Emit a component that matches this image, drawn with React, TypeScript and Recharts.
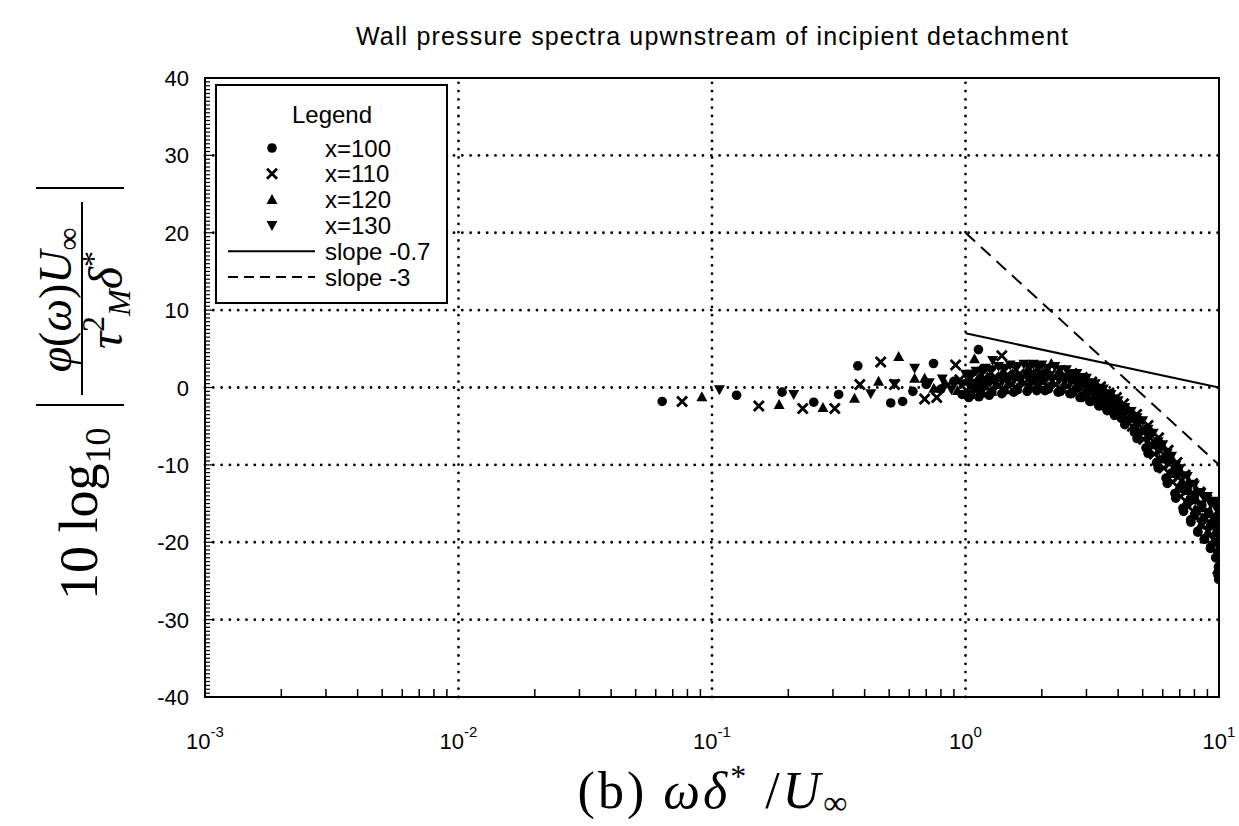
import React from 'react'
import { ScatterChart, Scatter, XAxis, YAxis, ReferenceLine, ReferenceArea } from 'recharts'

type Pt = [number, number]

// x = 100 (filled circles)
const x100: Pt[] = [
  [0.0636, -1.8], [0.125, -1.0], [0.189, -0.6], [0.252, -1.9], [0.316, -0.9], [0.376, 2.8],
  [0.507, -2.0], [0.565, -1.8], [0.62, -0.5], [0.7, 0.4], [0.748, 3.1], [0.8, -0.2], [0.9, 0.8],
  [0.97, -0.9], [1.125, 4.9], [1.17, 2.4],
  [1.07, 0.4], [1.18, 0.7], [1.28, 1.0], [1.44, 1.2], [1.61, 1.4], [1.82, 1.5], [1.98, 1.6], [2.14, 1.5],
  [2.41, 1.3], [2.68, 1.0], [2.94, 0.5], [3.21, -0.1], [3.48, -0.7], [3.74, -1.4], [4.01, -2.0], [4.28, -2.7],
  [4.82, -4.2], [5.35, -5.8], [5.89, -7.5], [6.42, -9.3], [6.96, -11.0], [7.49, -12.7], [8.03, -13.9],
  [8.56, -15.2], [9.1, -16.2], [9.63, -16.9], [9.99, -17.8], [10.0, -18.4],
  [1.03, -1.3], [1.13, -1.2], [1.24, -1.0], [1.39, -0.8], [1.55, -0.6], [1.75, -0.5], [1.91, -0.4], [2.06, -0.4],
  [2.32, -0.6], [2.58, -0.8], [2.83, -1.3], [3.09, -1.8], [3.35, -2.3], [3.61, -2.8], [3.86, -3.4], [4.12, -4.0],
  [4.64, -5.8], [5.15, -7.8], [5.67, -9.7], [6.18, -11.7], [6.7, -13.7], [7.21, -15.6], [7.73, -17.1],
  [8.24, -18.6], [8.76, -19.6], [9.27, -20.6], [9.79, -22.0], [9.95, -23.2],
  [1.05, -1.0], [1.15, -0.8], [1.27, -0.6], [1.42, -0.4], [1.6, -0.3], [1.77, -0.2], [1.92, -0.1], [2.12, -0.2],
  [2.37, -0.5], [2.62, -0.8], [2.87, -1.3], [3.12, -1.8], [3.37, -2.4], [3.62, -3.0], [3.87, -3.6], [4.25, -4.8],
  [4.75, -6.6], [5.25, -8.5], [5.75, -10.4], [6.25, -12.4], [6.75, -14.3], [7.25, -16.0], [7.75, -17.4],
  [8.25, -18.7], [8.75, -19.6], [9.25, -20.8], [9.7, -22.0], [9.9, -24.2], [9.97, -24.8],
]

// x = 110 (crosses)
const x110: Pt[] = [
  [0.0762, -1.8], [0.153, -2.4], [0.228, -2.7], [0.305, -2.7], [0.383, 0.4], [0.463, 3.3],
  [0.525, 0.4], [0.69, -1.5], [0.77, -1.3], [0.85, 0.3], [0.914, 2.9], [0.95, 1.0], [1.39, 4.1],
  [1.05, 1.2], [1.16, 1.6], [1.26, 1.9], [1.42, 2.1], [1.58, 2.3], [1.79, 2.4], [1.94, 2.4], [2.1, 2.4],
  [2.36, 2.2], [2.63, 1.8], [2.89, 1.3], [3.15, 0.7], [3.41, 0.1], [3.68, -0.7], [3.94, -1.3], [4.2, -2.1],
  [4.73, -3.5], [5.25, -4.9], [5.78, -6.5], [6.3, -8.1], [6.83, -9.7], [7.35, -11.3], [7.88, -12.4],
  [8.4, -13.5], [8.93, -14.5], [9.45, -15.2], [9.93, -15.9], [9.98, -16.2],
  [1.01, -0.4], [1.11, -0.2], [1.21, 0.1], [1.36, 0.3], [1.52, 0.5], [1.72, 0.6], [1.87, 0.7], [2.02, 0.6],
  [2.27, 0.4], [2.53, 0.2], [2.78, -0.4], [3.03, -0.9], [3.28, -1.4], [3.54, -2.0], [3.79, -2.7], [4.04, -3.3],
  [4.55, -5.0], [5.05, -6.7], [5.56, -8.6], [6.06, -10.4], [6.57, -12.2], [7.07, -14.1], [7.58, -15.4],
  [8.08, -16.8], [8.59, -17.8], [9.09, -18.6], [9.6, -19.8], [9.92, -20.7],
  [1.07, 0.7], [1.17, 1.0], [1.3, 1.3], [1.45, 1.5], [1.63, 1.7], [1.8, 1.7], [1.96, 1.7], [2.16, 1.6],
  [2.41, 1.3], [2.67, 0.9], [2.92, 0.4], [3.18, -0.2], [3.43, -0.9], [3.69, -1.5], [3.95, -2.2], [4.33, -3.3],
  [4.84, -4.8], [5.35, -6.5], [5.86, -8.2], [6.37, -9.9], [6.88, -11.6], [7.39, -13.0], [7.9, -14.2],
  [8.41, -15.3], [8.92, -16.2], [9.43, -17.0], [9.88, -17.6],
]

// x = 120 (up triangles)
const x120: Pt[] = [
  [0.0912, -1.2], [0.184, -2.2], [0.274, -2.6], [0.365, -1.4], [0.454, 0.8], [0.545, 4.0],
  [0.63, 1.2], [0.69, 1.2], [0.75, -0.1], [0.83, 0.6], [0.93, -0.4], [1.085, 3.7], [2.18, 3.1],
  [1.02, 0.8], [1.12, 1.1], [1.22, 1.4], [1.38, 1.6], [1.53, 1.8], [1.73, 1.9], [1.89, 1.9], [2.04, 1.9],
  [2.3, 1.7], [2.55, 1.3], [2.81, 0.8], [3.06, 0.3], [3.32, -0.4], [3.57, -1.1], [3.83, -1.7], [4.08, -2.5],
  [4.59, -3.9], [5.1, -5.4], [5.61, -7.1], [6.12, -8.8], [6.63, -10.4], [7.14, -12.1], [7.65, -13.3],
  [8.16, -14.5], [8.67, -15.5], [9.18, -16.1], [9.69, -17.0], [9.94, -17.4],
  [1.06, -0.9], [1.17, -0.7], [1.27, -0.5], [1.43, -0.3], [1.59, -0.1], [1.8, 0.0], [1.96, 0.1], [2.12, 0.1],
  [2.39, -0.1], [2.65, -0.4], [2.92, -0.9], [3.18, -1.4], [3.45, -1.9], [3.71, -2.5], [3.98, -3.1], [4.24, -3.7],
  [4.77, -5.4], [5.3, -7.3], [5.83, -9.2], [6.36, -11.1], [6.89, -13.0], [7.42, -14.9], [7.95, -16.3],
  [8.48, -17.7], [9.01, -18.7], [9.54, -19.7], [9.96, -21.0], [9.99, -22.0],
  [1.09, -0.1], [1.19, 0.2], [1.32, 0.4], [1.48, 0.6], [1.66, 0.8], [1.84, 0.9], [2.0, 0.9], [2.2, 0.7],
  [2.46, 0.5], [2.72, 0.1], [2.98, -0.4], [3.24, -1.0], [3.5, -1.6], [3.76, -2.2], [4.02, -2.8], [4.42, -4.0],
  [4.94, -5.6], [5.46, -7.4], [5.98, -9.2], [6.5, -11.0], [7.02, -12.8], [7.54, -14.4], [8.06, -15.7],
  [8.58, -16.8], [9.1, -17.8], [9.62, -18.7], [9.85, -23.5],
]

// x = 130 (down triangles)
const x130: Pt[] = [
  [0.107, -0.3], [0.21, -0.9], [0.423, -0.8], [0.525, 0.5], [0.63, 2.5], [0.72, 0.6], [0.81, 1.1],
  [0.88, -0.3], [0.96, 0.5], [1.28, 3.5],
  [1.0, 1.7], [1.1, 2.1], [1.2, 2.5], [1.35, 2.7], [1.5, 2.9], [1.7, 3.0], [1.85, 3.0], [2.0, 2.9],
  [2.25, 2.7], [2.5, 2.3], [2.75, 1.8], [3.0, 1.2], [3.25, 0.5], [3.5, -0.2], [3.75, -0.9], [4.0, -1.7],
  [4.5, -3.1], [5.0, -4.3], [5.5, -5.9], [6.0, -7.4], [6.5, -8.9], [7.0, -10.5], [7.5, -11.5],
  [8.0, -12.6], [8.5, -13.6], [9.0, -14.1], [9.5, -14.7], [9.9, -14.8],
  [1.04, 0.1], [1.14, 0.3], [1.25, 0.6], [1.4, 0.8], [1.56, 1.0], [1.77, 1.1], [1.92, 1.2], [2.08, 1.1],
  [2.34, 0.9], [2.6, 0.6], [2.86, 0.1], [3.12, -0.4], [3.38, -1.0], [3.64, -1.7], [3.9, -2.3], [4.16, -3.0],
  [4.68, -4.6], [5.2, -6.2], [5.72, -8.0], [6.24, -9.8], [6.76, -11.5], [7.28, -13.3], [7.8, -14.6],
  [8.32, -15.9], [8.84, -16.9], [9.36, -17.6], [9.88, -18.7], [9.97, -19.4],
  [1.05, 1.7], [1.15, 2.0], [1.27, 2.3], [1.42, 2.5], [1.6, 2.7], [1.77, 2.7], [1.92, 2.7], [2.12, 2.5],
  [2.37, 2.3], [2.62, 1.8], [2.87, 1.3], [3.12, 0.6], [3.37, -0.1], [3.62, -0.8], [3.87, -1.5], [4.25, -2.6],
  [4.75, -3.9], [5.25, -5.4], [5.75, -7.0], [6.25, -8.5], [6.75, -10.1], [7.25, -11.4], [7.75, -12.5],
  [8.25, -13.6], [8.75, -14.3], [9.25, -15.0], [9.7, -15.4],
]

const slope07: Pt[] = [[1, 7], [10, 0]]
const slope3: Pt[] = [[1, 20], [10, -10]]

const decades = [0.001, 0.01, 0.1, 1, 10]
const decadeExp = ['-3', '-2', '-1', '0', '1']
const yMajor = [-40, -30, -20, -10, 0, 10, 20, 30, 40]
const gridX = [0.01, 0.1, 1]
const gridY = [-30, -20, -10, 0, 10, 20, 30]

const xTicks = decades.flatMap((d, i) => (i < decades.length - 1 ? [d, 2 * d, 3 * d, 4 * d, 5 * d, 6 * d, 7 * d, 8 * d, 9 * d] : [d]))
const yTicks = Array.from({ length: 161 }, (_, i) => -40 + i * 0.5)

const sans = '"Liberation Sans", Arial, Helvetica, sans-serif'
const serif = '"Liberation Serif", "DejaVu Serif", "Times New Roman", serif'

const toXY = (a: Pt[]) => a.map(([x, y]) => ({ x, y }))

function XTick(props: any) {
  const { x, y, payload } = props
  const i = decades.indexOf(payload.value)
  if (i < 0) return <line x1={x} x2={x} y1={y} y2={y - 8} stroke="#000" strokeWidth={1.5} />
  return (
    <text x={x} y={y + 52} textAnchor="middle" fontSize={22} fontFamily={sans} fill="#000">
      10<tspan dy={-12} fontSize={15}>{decadeExp[i]}</tspan>
    </text>
  )
}

function YTick(props: any) {
  const { x, y, payload } = props
  const v = payload.value
  const major = yMajor.includes(v)
  return (
    <g>
      <line x1={x} x2={x + (major ? 7 : 5)} y1={y} y2={y} stroke="#000" strokeWidth={1.2} />
      {major && (
        <text x={x - 16} y={y + 8} textAnchor="end" fontSize={22} fontFamily={sans} fill="#000">
          {v}
        </text>
      )}
    </g>
  )
}

const Dot = (p: any) => <circle cx={p.cx} cy={p.cy} r={4.8} fill="#000" />
const Cross = (p: any) => {
  const { cx, cy } = p
  return <path d={`M${cx - 5},${cy - 5}L${cx + 5},${cy + 5}M${cx - 5},${cy + 5}L${cx + 5},${cy - 5}`} stroke="#000" strokeWidth={2.8} />
}
const TriUp = (p: any) => {
  const { cx, cy } = p
  return <path d={`M${cx},${cy - 5.5}L${cx + 5.5},${cy + 4.5}L${cx - 5.5},${cy + 4.5}Z`} fill="#000" />
}
const TriDown = (p: any) => {
  const { cx, cy } = p
  return <path d={`M${cx},${cy + 5.5}L${cx + 5.5},${cy - 4.5}L${cx - 5.5},${cy - 4.5}Z`} fill="#000" />
}
const NoMark = () => <g />

const dotted = { stroke: '#000', strokeWidth: 2.8, strokeDasharray: '0 8.3', strokeLinecap: 'round' as const }

const legendRows = [
  { label: 'x=100', mark: 'dot' },
  { label: 'x=110', mark: 'cross' },
  { label: 'x=120', mark: 'up' },
  { label: 'x=130', mark: 'down' },
  { label: 'slope -0.7', mark: 'solid' },
  { label: 'slope -3', mark: 'dash' },
]

function LegendMark({ mark, y }: { mark: string; y: number }) {
  const cx = 272
  if (mark === 'dot') return <Dot cx={cx} cy={y} />
  if (mark === 'cross') return <Cross cx={cx} cy={y} />
  if (mark === 'up') return <TriUp cx={cx} cy={y} />
  if (mark === 'down') return <TriDown cx={cx} cy={y} />
  return <line x1={228} x2={315} y1={y} y2={y} stroke="#000" strokeWidth={2} strokeDasharray={mark === 'dash' ? '10 6' : undefined} />
}

export default function App() {
  return (
    <div style={{ position: 'absolute', left: 0, top: 0, width: 1239, height: 826, background: '#fff' }}>
      <ScatterChart width={1239} height={826} margin={{ top: 78, right: 20, bottom: 69, left: 105 }}>
        <XAxis
          dataKey="x"
          type="number"
          scale="log"
          domain={[0.001, 10]}
          ticks={xTicks}
          interval={0}
          tick={XTick}
          tickLine={false}
          axisLine={false}
          tickSize={0}
          tickMargin={0}
          height={60}
          allowDataOverflow
        />
        <YAxis
          dataKey="y"
          type="number"
          domain={[-40, 40]}
          ticks={yTicks}
          interval={0}
          tick={YTick}
          tickLine={false}
          axisLine={false}
          tickSize={0}
          tickMargin={0}
          width={100}
          allowDataOverflow
        />
        {gridX.map((v) => (
          <ReferenceLine key={'gx' + v} x={v} {...dotted} />
        ))}
        {gridY.map((v) => (
          <ReferenceLine key={'gy' + v} y={v} {...dotted} />
        ))}
        <ReferenceArea x1={0.001} x2={10} y1={-40} y2={40} fill="none" fillOpacity={0} stroke="#000" strokeWidth={2} ifOverflow="visible" />
        <Scatter name="x=100" data={toXY(x100)} shape={Dot} isAnimationActive={false} />
        <Scatter name="x=110" data={toXY(x110)} shape={Cross} isAnimationActive={false} />
        <Scatter name="x=120" data={toXY(x120)} shape={TriUp} isAnimationActive={false} />
        <Scatter name="x=130" data={toXY(x130)} shape={TriDown} isAnimationActive={false} />
        <Scatter name="slope -0.7" data={toXY(slope07)} shape={NoMark} line={{ stroke: '#000', strokeWidth: 2 }} isAnimationActive={false} />
        <Scatter name="slope -3" data={toXY(slope3)} shape={NoMark} line={{ stroke: '#000', strokeWidth: 2, strokeDasharray: '13 8' }} isAnimationActive={false} />
      </ScatterChart>

      <svg width={1239} height={826} style={{ position: 'absolute', left: 0, top: 0, pointerEvents: 'none' }}>
        <text x={712} y={45} textAnchor="middle" fontSize={25} fontFamily={sans} fill="#000" textLength={712} lengthAdjust="spacing">
          Wall pressure spectra upwnstream of incipient detachment
        </text>

        <rect x={216} y={85} width={231} height={218} fill="#fff" stroke="#000" strokeWidth={2} />
        <text x={332} y={123} textAnchor="middle" fontSize={24} fontFamily={sans} fill="#000">Legend</text>
        {legendRows.map((r, i) => (
          <g key={r.label}>
            <LegendMark mark={r.mark} y={148 + i * 25.8} />
            <text x={325} y={148 + i * 25.8 + 8.5} fontSize={24} fontFamily={sans} fill="#000">{r.label}</text>
          </g>
        ))}

        <text x={714} y={808} textAnchor="middle" fontSize={52} fontFamily={serif} fill="#000" letterSpacing={3}>
          (b) <tspan fontStyle="italic">ωδ</tspan>
          <tspan fontSize={32} dy={-21}>*</tspan>
          <tspan dy={21}> /</tspan>
          <tspan fontStyle="italic">U</tspan>
          <tspan fontSize={34} dy={6}>∞</tspan>
        </text>

        <g transform="translate(80,600) rotate(-90)" fontFamily={serif} fill="#000">
          <text x={0} y={17} fontSize={54}>
            10 log<tspan fontSize={36} dy={13}>10</tspan>
          </text>
          <line x1={195} x2={195} y1={-44} y2={44} stroke="#000" strokeWidth={2} />
          <text x={300} y={-9} fontSize={46} textAnchor="middle">
            <tspan fontStyle="italic">φ</tspan>(<tspan fontStyle="italic">ω</tspan>)<tspan fontStyle="italic">U</tspan>
            <tspan fontSize={32} dy={8}>∞</tspan>
          </text>
          <line x1={205} x2={398} y1={2} y2={2} stroke="#000" strokeWidth={2} />
          <text x={300} y={42} fontSize={48} textAnchor="middle" fontStyle="italic">
            τ<tspan fontSize={32} dy={-18} fontStyle="normal">2</tspan>
            <tspan fontSize={32} dy={26}>M</tspan>
            <tspan fontSize={48} dy={-8}>δ</tspan>
            <tspan fontSize={32} dy={-18} fontStyle="normal">*</tspan>
          </text>
          <line x1={412} x2={412} y1={-44} y2={44} stroke="#000" strokeWidth={2} />
        </g>
      </svg>
    </div>
  )
}
